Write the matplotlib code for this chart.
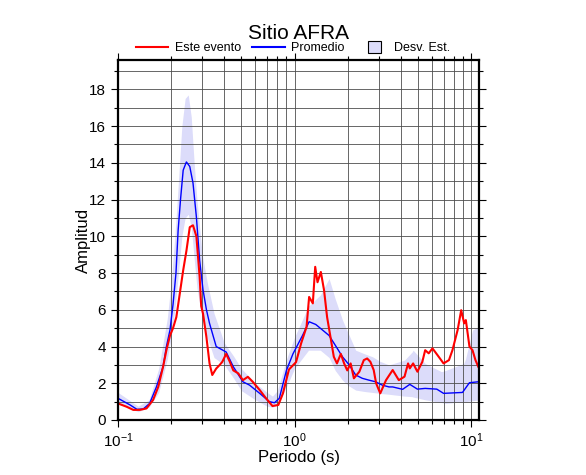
import numpy as np
import matplotlib.pyplot as plt
from matplotlib.patches import Patch, Rectangle
from matplotlib.lines import Line2D
from matplotlib.legend_handler import HandlerPatch
from matplotlib.ticker import LogLocator, MultipleLocator

plt.rcParams['font.family'] = ['Liberation Sans', 'DejaVu Sans']

# Promedio (blue)
per_prom = [0.100, 0.117, 0.128, 0.139, 0.151, 0.165, 0.180, 0.188, 0.197, 0.205,
            0.213, 0.219, 0.226, 0.234, 0.244, 0.255, 0.266, 0.278, 0.290, 0.303,
            0.317, 0.330, 0.360, 0.410, 0.450, 0.510, 0.556, 0.635, 0.720, 0.770,
            0.820, 0.900, 0.980, 1.110, 1.210, 1.320, 1.440, 1.570, 1.720, 1.870,
            2.040, 2.220, 2.420, 2.640, 2.880, 3.140, 3.430, 3.600, 4.100, 4.500,
            4.970, 5.500, 6.400, 6.990, 8.950, 9.800, 11.0]
amp_prom = [1.18, 0.82, 0.58, 0.60, 0.90, 1.80, 2.90, 4.00, 4.90, 6.30,
            8.00, 10.3, 12.0, 13.6, 14.05, 13.8, 12.9, 11.05, 8.70, 7.10,
            6.00, 5.26, 4.00, 3.70, 2.90, 2.08, 1.90, 1.45, 1.00, 0.94,
            1.18, 2.70, 3.60, 4.60, 5.35, 5.20, 4.90, 4.60, 4.00, 3.44,
            3.00, 2.45, 2.27, 2.17, 2.08, 1.90, 1.80, 1.80, 1.67, 1.94,
            1.68, 1.72, 1.68, 1.45, 1.50, 2.03, 2.08]

# Este evento (red)
per_ev = [0.100, 0.112, 0.122, 0.133, 0.145, 0.158, 0.169, 0.180, 0.188, 0.197,
          0.205, 0.214, 0.224, 0.234, 0.244, 0.255, 0.266, 0.278, 0.290, 0.296,
          0.303, 0.317, 0.330, 0.342, 0.360, 0.377, 0.390, 0.410, 0.430, 0.450,
          0.480, 0.510, 0.544, 0.580, 0.635, 0.690, 0.750, 0.810, 0.860, 0.930,
          1.020, 1.090, 1.170, 1.210, 1.270, 1.310, 1.350, 1.410, 1.470, 1.530,
          1.600, 1.670, 1.740, 1.830, 1.910, 1.990, 2.080, 2.170, 2.330, 2.470,
          2.580, 2.690, 2.810, 2.900, 3.060, 3.300, 3.600, 3.900, 4.200, 4.400,
          4.500, 4.700, 4.970, 5.300, 5.500, 5.760, 6.050, 6.450, 6.990, 7.500,
          7.850, 8.400, 8.800, 9.150, 9.350, 9.800, 10.20, 10.60, 11.0]
amp_ev = [0.90, 0.72, 0.55, 0.55, 0.63, 1.09, 1.80, 2.90, 3.80, 4.60,
          5.00, 5.60, 6.90, 8.15, 9.20, 10.5, 10.6, 10.0, 7.80, 6.20,
          5.80, 4.50, 3.08, 2.45, 2.80, 3.00, 3.17, 3.60, 3.17, 2.70,
          2.54, 2.17, 2.35, 2.08, 1.63, 1.18, 0.76, 0.82, 1.45, 2.75,
          3.15, 4.17, 5.07, 6.70, 6.35, 8.34, 7.50, 8.06, 7.07, 5.60,
          4.50, 3.44, 3.08, 3.60, 3.08, 2.70, 3.08, 2.27, 2.63, 3.26,
          3.35, 3.17, 2.72, 2.00, 1.45, 2.17, 2.72, 2.17, 2.36, 3.08,
          2.81, 3.08, 2.63, 3.17, 3.80, 3.63, 3.90, 3.54, 3.08, 3.26,
          3.80, 4.90, 5.98, 5.26, 5.44, 4.00, 3.80, 3.26, 2.90]

# Desv. Est. band
per_band = [0.100, 0.130, 0.150, 0.170, 0.190, 0.200, 0.210, 0.220, 0.230, 0.240,
            0.250, 0.260, 0.270, 0.280, 0.300, 0.320, 0.350, 0.400, 0.450, 0.500,
            0.600, 0.700, 0.750, 0.800, 0.900, 1.000, 1.200, 1.400, 1.570, 1.700,
            1.870, 2.000, 2.220, 2.500, 2.770, 3.040, 3.430, 4.200, 4.640, 4.700,
            5.500, 6.800, 7.200, 9.100, 9.300, 10.20, 11.0]
band_hi = [1.50, 0.75, 1.10, 2.80, 5.50, 7.50, 10.0, 13.0, 16.0, 17.5,
           17.7, 16.5, 14.0, 12.0, 9.00, 7.50, 5.80, 4.20, 3.50, 2.80,
           2.00, 1.50, 1.30, 1.60, 3.30, 4.50, 6.20, 6.80, 7.70, 6.60,
           5.44, 4.80, 3.80, 3.60, 3.44, 3.20, 3.00, 3.26, 3.70, 3.80,
           3.08, 2.63, 2.70, 3.08, 3.30, 4.90, 5.07]
band_lo = [0.90, 0.45, 0.70, 1.50, 3.30, 4.50, 6.00, 8.00, 10.0, 11.0,
           11.2, 10.5, 8.80, 7.20, 5.50, 4.50, 3.40, 3.00, 2.30, 1.60,
           1.10, 0.75, 0.70, 0.80, 1.80, 2.80, 3.80, 3.80, 3.40, 2.70,
           2.17, 1.90, 1.63, 1.55, 1.50, 1.45, 1.40, 1.30, 1.27, 1.25,
           1.10, 0.95, 0.90, 1.00, 1.00, 1.05, 1.09]

band_col = '#dcdcfa'


class SquareHandler(HandlerPatch):
    # small square box instead of a wide bar
    def create_artists(self, legend, orig_handle, xdescent, ydescent,
                       width, height, fontsize, trans):
        s = fontsize * 1.0
        r = Rectangle(((width - s) / 2 + 2 - xdescent, (height - s) / 2 - ydescent), s, s,
                      facecolor=orig_handle.get_facecolor(), edgecolor='black',
                      lw=0.8, transform=trans)
        return [r]


fig = plt.figure(figsize=(5.86, 4.75), dpi=100)
ax = fig.add_axes([0.2014, 0.1158, 0.6160, 0.7579])

ax.fill_between(per_band, band_lo, band_hi, color=band_col, lw=0, zorder=1)
ax.plot(per_prom, amp_prom, color='#0000ff', lw=1.0, zorder=3)
ax.plot(per_ev, amp_ev, color='#ff0000', lw=1.5, zorder=4)

ax.set_xscale('log')
ax.set_xlim(0.1, 11.1)
ax.set_ylim(0, 19.6)
ax.xaxis.set_major_locator(LogLocator(base=10))
ax.xaxis.set_minor_locator(LogLocator(base=10, subs=np.arange(2, 10)))
ax.yaxis.set_major_locator(MultipleLocator(2))
ax.yaxis.set_minor_locator(MultipleLocator(1))
ax.grid(True, which='both', color='0.3', lw=0.6, zorder=2)
ax.set_axisbelow(False)
for s in ax.spines.values():
    s.set_linewidth(1.6)
    s.set_zorder(5)
ax.tick_params(which='both', direction='out', top=True, right=True, labelsize=11, width=0.8)
ax.tick_params(which='major', length=5)
ax.tick_params(which='minor', length=3)
ax.set_xlabel('Periodo (s)', fontsize=12, labelpad=0)
ax.set_ylabel('Amplitud', fontsize=12, labelpad=-1)
ax.set_title('Sitio AFRA', fontsize=15, pad=15)

handles = [Line2D([], [], color='#ff0000', lw=1.5),
           Line2D([], [], color='#0000ff', lw=1.5),
           Patch(facecolor=band_col, edgecolor='black', lw=0.8)]
ax.legend(handles, ['Este evento', 'Promedio', 'Desv. Est.'], loc='lower center',
          bbox_to_anchor=(0.485, 0.995), ncol=3, frameon=False, fontsize=9,
          handlelength=2.6, columnspacing=0.9, handletextpad=0.5, borderpad=0.1,
          handler_map={Patch: SquareHandler()})

fig.savefig('out.png', dpi=100)
